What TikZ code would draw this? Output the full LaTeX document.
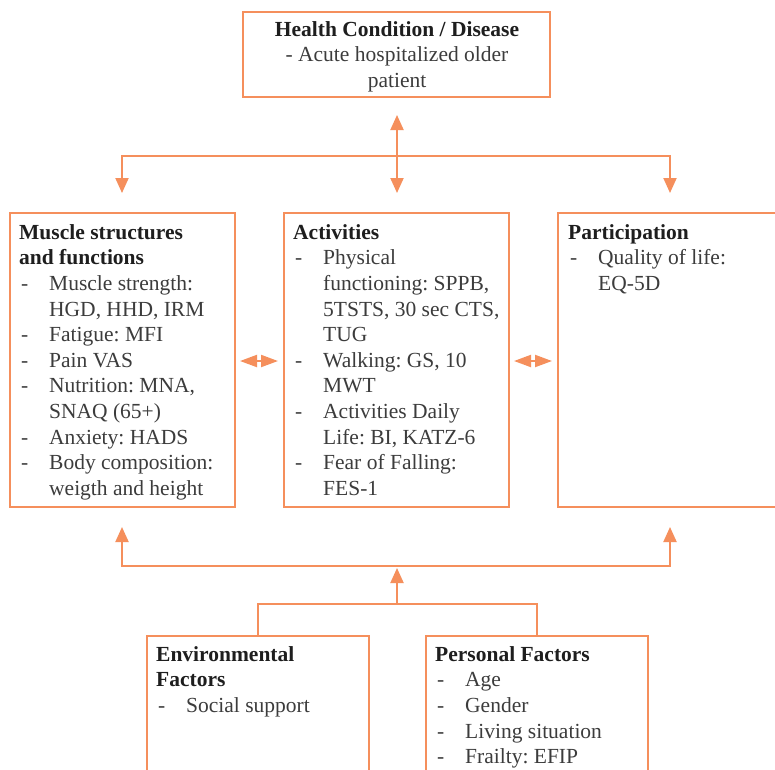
\documentclass[tikz,border=0pt]{standalone}
\usepackage{fontspec}
\setmainfont{Liberation Serif}
\usetikzlibrary{arrows.meta}
\definecolor{icf}{HTML}{F58F5C}
\definecolor{txtgray}{HTML}{3C3C3C}
\definecolor{hdgray}{HTML}{1E1E1E}
\newcommand\itm{\hspace*{2pt}\makebox[28pt][l]{-}}
\newcommand\ind{\hspace*{30pt}}
\newcommand\hd[1]{\textbf{\color{hdgray}#1}}
\frenchspacing
\begin{document}
\begin{tikzpicture}[x=1pt,y=-1pt,
  box/.style={draw=icf,line width=2pt,anchor=north west,inner sep=0pt,outer sep=0pt},
  txt/.style={font=\fontsize{21.5}{25.6}\selectfont\frenchspacing,text=txtgray,inner sep=0pt,anchor=north west,align=left},
  conn/.style={draw=icf,line width=2pt},
  bigtip/.style={-{Triangle[length=15pt,width=13pt]}},
  bothtip/.style={{Triangle[length=15pt,width=13pt]}-{Triangle[length=15pt,width=13pt]}},
  smalltip/.style={{Triangle[length=17pt,width=12pt]}-{Triangle[length=17pt,width=12pt]}}]
\useasboundingbox (0,0) rectangle (775,769);
\clip (0,0) rectangle (775,769);
\fill[white] (0,0) rectangle (775,769);

% boxes
\node[box,minimum width=307pt,minimum height=85pt] (hc) at (243,12) {};
\node[box,minimum width=225pt,minimum height=294pt] (msf) at (10,213) {};
\node[box,minimum width=225pt,minimum height=294pt] (act) at (284,213) {};
\node[box,minimum width=240pt,minimum height=294pt] (par) at (558,213) {};
\node[box,minimum width=222pt,minimum height=160pt] (env) at (147,636) {};
\node[box,minimum width=222pt,minimum height=160pt] (pf) at (426,636) {};

% texts
\node[txt,anchor=north,align=center] (hct) at (397,21.1)
  {\hd{Health Condition / Disease}\\- Acute hospitalized older\\patient};
\node[txt] (msft) at (19,224.1)
  {\hd{Muscle structures}\\
   \hd{and functions}\\
   \itm Muscle strength:\\
   \ind HGD, HHD, IRM\\
   \itm Fatigue: MFI\\
   \itm Pain VAS\\
   \itm Nutrition: MNA,\\
   \ind SNAQ (65+)\\
   \itm Anxiety: HADS\\
   \itm Body composition:\\
   \ind weigth and height};
\node[txt] (actt) at (293,224.1)
  {\hd{Activities}\\
   \itm Physical\\
   \ind functioning: SPPB,\\
   \ind 5TSTS, 30 sec CTS,\\
   \ind TUG\\
   \itm Walking: GS, 10\\
   \ind MWT\\
   \itm Activities Daily\\
   \ind Life: BI, KATZ-6\\
   \itm Fear of Falling:\\
   \ind FES-1};
\node[txt] (part) at (568,224.1)
  {\hd{Participation}\\
   \itm Quality of life:\\
   \ind EQ-5D};
\node[txt] (envt) at (156,646.1)
  {\hd{Environmental}\\
   \hd{Factors}\\
   \itm Social support};
\node[txt] (pft) at (435,646.1)
  {\hd{Personal Factors}\\
   \itm Age\\
   \itm Gender\\
   \itm Living situation\\
   \itm Frailty: EFIP};

% connector points
\coordinate (hcUp) at (397,115);
\coordinate (hcDn) at (397,193);
\coordinate (tL) at (122,156);
\coordinate (tR) at (670,156);
\coordinate (msfIn) at (122,193);
\coordinate (parIn) at (670,193);
\coordinate (bL) at (122,566);
\coordinate (bR) at (670,566);
\coordinate (msfOut) at (122,527);
\coordinate (parOut) at (670,527);
\coordinate (bC) at (397,566);
\coordinate (fC) at (397,604);
\coordinate (m1a) at (240,361);
\coordinate (m1b) at (278,361);
\coordinate (m2a) at (514,361);
\coordinate (m2b) at (552,361);

% top connectors
\draw[conn,bothtip] (hcUp) -- (hcDn);
\draw[conn,bothtip] (msfIn) -- (tL) -- (tR) -- (parIn);
% middle
\draw[conn,smalltip] (m1a) -- (m1b);
\draw[conn,smalltip] (m2a) -- (m2b);
% bottom
\draw[conn,bothtip] (msfOut) -- (bL) -- (bR) -- (parOut);
\draw[conn,bigtip] (fC) -- ([yshift=-2pt]bC);
\draw[conn] (env.north) -- (env.north |- fC) -- (pf.north |- fC) -- (pf.north);
\end{tikzpicture}
\end{document}
